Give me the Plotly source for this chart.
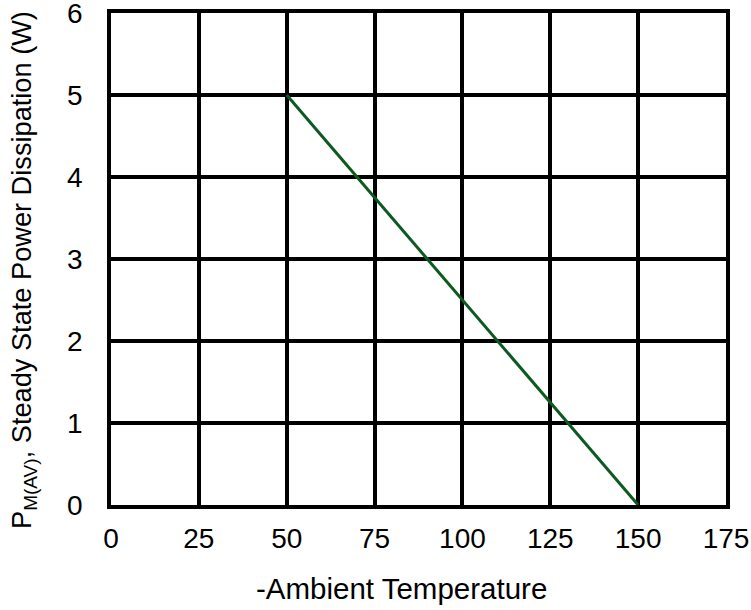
import plotly.graph_objects as go

temps = [50, 150]
power = [5, 0]
x_ticks = [0, 25, 50, 75, 100, 125, 150, 175]
y_ticks = [0, 1, 2, 3, 4, 5, 6]
x_title = "-Ambient Temperature"
y_title = "P<sub>M(AV)</sub>, Steady State Power Dissipation (W)"

fig = go.Figure()
fig.add_trace(go.Scatter(x=temps, y=power, mode="lines",
                         line=dict(color="#0b5a1f", width=3), showlegend=False))

fig.update_layout(
    width=751, height=610,
    margin=dict(l=111, r=25, t=13, b=105, autoexpand=False),
    paper_bgcolor="white", plot_bgcolor="white",
    font=dict(family="Liberation Sans, Arial, sans-serif", color="black"),
)
fig.update_xaxes(range=[0, 175], tickvals=x_ticks, showgrid=True, gridcolor="black",
                 gridwidth=3.5, zeroline=False, showline=True, linecolor="black",
                 linewidth=3.5, mirror=True, ticks="", tickfont=dict(size=28),
                 ticklabelstandoff=6, automargin=False, ticklabeloverflow="allow")
fig.update_yaxes(range=[0, 6], tickvals=y_ticks, showgrid=True, gridcolor="black",
                 gridwidth=3.5, zeroline=False, showline=True, linecolor="black",
                 linewidth=3.5, mirror=True, ticks="", tickfont=dict(size=28),
                 ticklabelstandoff=19, automargin=False, ticklabeloverflow="allow")
fig.add_annotation(text=x_title, xref="paper", yref="paper", x=0.5, y=0,
                   xanchor="center", yanchor="middle", xshift=-17, yshift=-83,
                   showarrow=False, font=dict(size=29.5))
fig.add_annotation(text=y_title, xref="paper", yref="paper", x=0, y=0.5,
                   xanchor="center", yanchor="middle", xshift=-88, yshift=-11,
                   textangle=-90, showarrow=False, font=dict(size=27.2))
fig.write_html("out.html", config={"displayModeBar": False},
               post_script="document.body.style.margin='0';")
